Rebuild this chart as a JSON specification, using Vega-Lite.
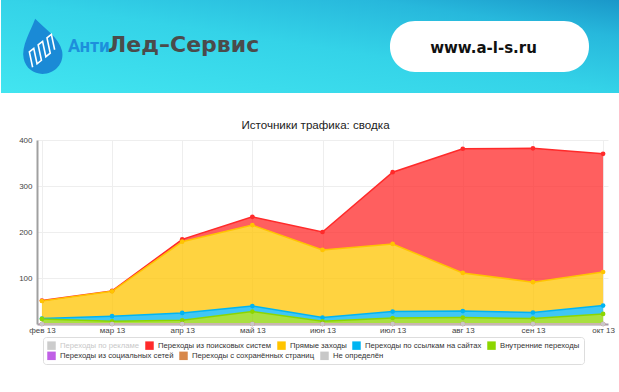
{
  "$schema": "https://vega.github.io/schema/vega-lite/v6.json",
  "padding": 0,
  "background": "white",
  "spacing": 27,
  "config": {
    "view": {"stroke": null},
    "font": "Liberation Sans",
    "axis": {"labelFont": "Liberation Sans", "labelFontSize": 8, "labelColor": "#444444", "gridColor": "#eeeeee", "gridWidth": 1, "ticks": false, "title": null}
  },
  "vconcat": [
    {
      "width": 583,
      "height": 93,
      "data": {"values": [{}]},
      "encoding": {
        "x": {"type": "quantitative", "scale": {"domain": [5.816, 100], "nice": false, "zero": false}, "axis": null},
        "y": {"type": "quantitative", "scale": {"domain": [100, 0], "nice": false}, "axis": null}
      },
      "layer": [
        {
          "mark": {"type": "rect", "color": {"gradient": "linear", "x1": 0, "y1": 1, "x2": 1, "y2": 0, "stops": [
            {"offset": 0, "color": "#42e5f0"},
            {"offset": 0.5, "color": "#34d3e8"},
            {"offset": 0.8, "color": "#27b8dc"},
            {"offset": 1, "color": "#1a97c9"}
          ]}},
          "encoding": {"x": {"datum": 0, "type": "quantitative"}, "x2": {"datum": 100}, "y": {"datum": 0, "type": "quantitative"}, "y2": {"datum": 100}}
        },
        {
          "mark": {"type": "rect", "color": "white", "cornerRadius": 25},
          "encoding": {"x": {"datum": 62.84, "type": "quantitative"}, "x2": {"datum": 94.99}, "y": {"datum": 22.6, "type": "quantitative"}, "y2": {"datum": 77.4}}
        },
        {
          "mark": {"type": "text", "text": "www.a-l-s.ru", "font": "DejaVu Sans", "fontWeight": "bold", "fontSize": 15, "color": "#111111", "align": "center", "baseline": "alphabetic"},
          "encoding": {"x": {"datum": 77.95, "type": "quantitative"}, "y": {"datum": 57.0, "type": "quantitative"}}
        },
        {
          "mark": {"type": "text", "text": "Анти", "font": "Roboto", "fontWeight": "bold", "fontSize": 18, "color": "#1d8fdc", "align": "left", "baseline": "alphabetic"},
          "encoding": {"x": {"datum": 10.82, "type": "quantitative"}, "y": {"datum": 55.9, "type": "quantitative"}}
        },
        {
          "mark": {"type": "text", "text": "Лед–Сервис", "font": "DejaVu Sans", "fontWeight": "bold", "fontSize": 22, "color": "#4b4b4b", "align": "left", "baseline": "alphabetic"},
          "encoding": {"x": {"datum": 17.29, "type": "quantitative"}, "y": {"datum": 55.9, "type": "quantitative"}}
        },
        {
          "mark": {"type": "point", "shape": "M0,-1 C0.25,-0.6 0.7,-0.15 0.7,0.32 C0.7,0.72 0.38,1 0,1 C-0.38,1 -0.7,0.72 -0.7,0.32 C-0.7,-0.15 -0.25,-0.6 0,-1 Z", "filled": true, "color": "#1a8ad6", "size": 3136, "angle": -12, "opacity": 1, "strokeWidth": 0},
          "encoding": {"x": {"datum": 6.46, "type": "quantitative"}, "y": {"datum": 49.5, "type": "quantitative"}}
        },
        {
          "mark": {"type": "point", "shape": "M-0.45,0.68 L-0.45,0.12 L-0.27,0.03 L-0.27,0.59 L-0.09,0.5 L-0.09,-0.06 L0.09,-0.15 L0.09,0.41 L0.27,0.32 L0.27,-0.24 L0.45,-0.33 L0.45,0.23", "filled": false, "stroke": "white", "strokeWidth": 1.6, "size": 3136, "angle": -12, "opacity": 1},
          "encoding": {"x": {"datum": 6.46, "type": "quantitative"}, "y": {"datum": 49.5, "type": "quantitative"}}
        }
      ]
    },
    {
      "width": 571,
      "height": 184,
      "title": {"text": "Источники трафика: сводка", "font": "Liberation Sans", "fontSize": 11.6, "fontWeight": "normal", "color": "#222222", "frame": "group", "anchor": "middle", "dx": -7, "offset": 4},
      "data": {"values": [
        {"m": "фев 13", "Переходы из поисковых систем": 1, "Прямые заходы": 38, "Переходы по ссылкам на сайтах": 1, "Внутренние переходы": 11, "Переходы из социальных сетей": 0, "Переходы с сохранённых страниц": 0, "Не определён": 0},
        {"m": "мар 13", "Переходы из поисковых систем": 1, "Прямые заходы": 54, "Переходы по ссылкам на сайтах": 11, "Внутренние переходы": 6, "Переходы из социальных сетей": 0, "Переходы с сохранённых страниц": 0, "Не определён": 0},
        {"m": "апр 13", "Переходы из поисковых систем": 5, "Прямые заходы": 155, "Переходы по ссылкам на сайтах": 16, "Внутренние переходы": 8, "Переходы из социальных сетей": 0, "Переходы с сохранённых страниц": 0, "Не определён": 0},
        {"m": "май 13", "Переходы из поисковых систем": 18, "Прямые заходы": 176, "Переходы по ссылкам на сайтах": 12, "Внутренние переходы": 27, "Переходы из социальных сетей": 0, "Переходы с сохранённых страниц": 0, "Не определён": 0},
        {"m": "июн 13", "Переходы из поисковых систем": 39, "Прямые заходы": 147, "Переходы по ссылкам на сайтах": 8, "Внутренние переходы": 6, "Переходы из социальных сетей": 0, "Переходы с сохранённых страниц": 0, "Не определён": 0},
        {"m": "июл 13", "Переходы из поисковых систем": 156, "Прямые заходы": 147, "Переходы по ссылкам на сайтах": 14, "Внутренние переходы": 13, "Переходы из социальных сетей": 0, "Переходы с сохранённых страниц": 0, "Не определён": 0},
        {"m": "авг 13", "Переходы из поисковых систем": 270, "Прямые заходы": 83, "Переходы по ссылкам на сайтах": 14, "Внутренние переходы": 14, "Переходы из социальных сетей": 0, "Переходы с сохранённых страниц": 0, "Не определён": 0},
        {"m": "сен 13", "Переходы из поисковых систем": 291, "Прямые заходы": 66, "Переходы по ссылкам на сайтах": 13, "Внутренние переходы": 12, "Переходы из социальных сетей": 0, "Переходы с сохранённых страниц": 0, "Не определён": 0},
        {"m": "окт 13", "Переходы из поисковых систем": 257, "Прямые заходы": 73, "Переходы по ссылкам на сайтах": 18, "Внутренние переходы": 22, "Переходы из социальных сетей": 0, "Переходы с сохранённых страниц": 0, "Не определён": 0}
      ]},
      "transform": [
        {"fold": ["Переходы из поисковых систем", "Прямые заходы", "Переходы по ссылкам на сайтах", "Внутренние переходы", "Переходы из социальных сетей", "Переходы с сохранённых страниц", "Не определён"], "as": ["s", "v"]},
        {"lookup": "s", "from": {"data": {"values": [
          {"s": "Не определён", "k": 1},
          {"s": "Переходы с сохранённых страниц", "k": 2},
          {"s": "Переходы из социальных сетей", "k": 3},
          {"s": "Внутренние переходы", "k": 4},
          {"s": "Переходы по ссылкам на сайтах", "k": 5},
          {"s": "Прямые заходы", "k": 6},
          {"s": "Переходы из поисковых систем", "k": 7}
        ]}, "key": "s", "fields": ["k"]}}
      ],
      "encoding": {
        "x": {"field": "m", "type": "ordinal", "sort": null, "scale": {"type": "point", "padding": 0.07},
          "axis": {"labelAngle": 0, "grid": true, "domainColor": "#a39cab", "domainWidth": 2, "labelPadding": 2}},
        "y": {"field": "v", "type": "quantitative", "stack": "zero", "scale": {"domain": [0, 400], "nice": false},
          "axis": {"values": [100, 200, 300, 400], "domainColor": "#a0a0a0", "domainWidth": 2, "labelPadding": 5, "minExtent": 36, "maxExtent": 36}}
      },
      "layer": [
        {
          "mark": {"type": "area", "fillOpacity": 0.75, "line": {"strokeWidth": 1.5}, "point": {"filled": true, "size": 22, "opacity": 1}},
          "encoding": {
            "color": {"field": "s", "type": "nominal",
              "scale": {"domain": ["Переходы по рекламе", "Переходы из поисковых систем", "Прямые заходы", "Переходы по ссылкам на сайтах", "Внутренние переходы", "Переходы из социальных сетей", "Переходы с сохранённых страниц", "Не определён"],
                "range": ["#cccccc", "#ff2a2a", "#ffc400", "#00b4f2", "#8cd600", "#c060e6", "#d8884a", "#c8c8c8"]},
              "legend": {"title": " ", "titleOrient": "bottom", "titleFontSize": 8, "titlePadding": 1.5,
                "values": ["Переходы по рекламе", "Переходы из поисковых систем", "Прямые заходы", "Переходы по ссылкам на сайтах", "Внутренние переходы"],
                "orient": "none", "legendX": 6, "legendY": 337, "direction": "horizontal", "columns": 5,
                "symbolType": "square", "symbolSize": 72, "symbolStrokeWidth": 0, "symbolOpacity": 1,
                "labelFont": "Liberation Sans", "labelFontSize": 7.7, "labelOffset": 4, "labelLimit": 0, "columnPadding": 5,
                "padding": 4, "strokeColor": "#dddddd", "fillColor": "white", "cornerRadius": 3,
                "encode": {
                  "labels": {"update": {"fill": {"signal": "datum.label === 'Переходы по рекламе' ? '#c8c8c8' : '#333333'"}}},
                  "symbols": {"update": {"fillOpacity": {"value": 1}, "opacity": {"value": 1}}}
                }}},
            "order": {"field": "k", "type": "quantitative"}
          }
        },
        {
          "transform": [{"filter": "false"}],
          "mark": {"type": "point", "filled": true, "opacity": 1},
          "encoding": {
            "y": {"field": "v", "type": "quantitative", "stack": null},
            "fill": {"field": "s", "type": "nominal",
              "scale": {"domain": ["Переходы из социальных сетей", "Переходы с сохранённых страниц", "Не определён"], "range": ["#c060e6", "#d8884a", "#c8c8c8"]},
              "legend": {"title": null, "orient": "none", "legendX": 10, "legendY": 351.2, "direction": "horizontal", "columns": 3,
                "symbolType": "square", "symbolSize": 72, "symbolStrokeWidth": 0, "symbolOpacity": 1,
                "labelFont": "Liberation Sans", "labelFontSize": 7.7, "labelOffset": 4, "labelLimit": 0, "columnPadding": 5, "labelColor": "#333333",
                "padding": 0,
                "encode": {"symbols": {"update": {"fillOpacity": {"value": 1}, "opacity": {"value": 1}}}}}}
          }
        }
      ]
    }
  ]
}
